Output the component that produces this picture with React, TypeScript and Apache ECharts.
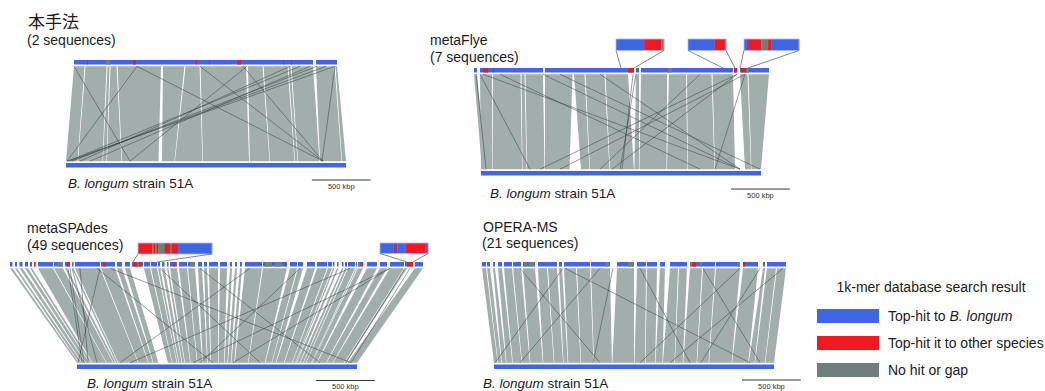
import React, { useEffect, useRef } from 'react';
import * as echarts from 'echarts';

// ---------------- data (kbp) ----------------
const REF_LEN = 2380; // B. longum strain 51A
const SCALE_KBP = 500;
const SCALE_LABEL = '500 kbp';
const SPECIES_LABEL = '{i|B. longum} strain 51A';

const BLUE = 0, RED = 1, GREY = 2, PURPLE = 3;

// Panel 1: 本手法
const p1Title = '本手法';
const p1Sub = '(2 sequences)';
const p1QLen = 2367;
const p1Contigs = [[0, 2151], [2178, 2367]];
const p1Hits = [[117, 126, RED], [288, 324, GREY], [531, 558, RED], [1098, 1107, RED], [1215, 1224, RED], [1467, 1503, RED], [1881, 1890, RED], [1953, 1962, RED]];
// [queryStart, queryEnd, refStart, refEnd]
const p1Blocks = [[0, 95, 0, 98], [104, 293, 102, 310], [302, 320, 314, 344], [329, 383, 348, 472], [392, 783, 476, 786], [801, 994, 816, 922], [1004, 1130, 926, 1160], [1139, 1548, 1164, 1556], [1566, 1697, 1562, 1730], [1706, 1922, 1734, 1942], [1931, 1949, 1946, 1968], [1958, 2151, 1972, 2155], [2178, 2345, 2159, 2342], [2354, 2367, 2346, 2380]];
// [query, ref]
const p1Repeats = [[0, 544], [567, 9], [567, 2185], [2349, 9], [2268, 34], [2187, 51], [2034, 17], [1557, 544], [2349, 2176], [1521, 2185], [1134, 2185], [1944, 119], [2124, 204]];
const p1Insets: any[] = [];

// Panel 2: metaFlye
const p2Title = 'metaFlye';
const p2Sub = '(7 sequences)';
const p2QLen = 2360;
const p2Contigs = [[0, 24], [48, 552], [568, 1280], [1296, 1320], [1336, 2072], [2080, 2104], [2128, 2360]];
const p2Hits = [[72, 112, RED], [152, 160, RED], [1232, 1280, RED], [1552, 1584, GREY], [2080, 2104, RED], [2136, 2176, RED], [2176, 2200, GREY]];
const p2Blocks = [[0, 24, 9, 43], [48, 144, 0, 94], [152, 372, 98, 349], [380, 404, 353, 387], [412, 552, 391, 540], [568, 788, 544, 752], [800, 884, 850, 922], [892, 1044, 926, 1092], [1052, 1232, 1096, 1300], [1296, 1320, 1304, 1343], [1336, 1544, 1347, 1577], [1560, 1696, 1581, 1755], [1704, 1900, 1759, 1985], [1908, 2072, 1989, 2159], [2128, 2188, 2244, 2295], [2196, 2360, 2299, 2380]];
const p2Repeats = [[72, 2202], [552, 2202], [208, 1862], [1272, 1199], [1296, 1182], [2104, 502], [2168, 672], [2104, 1114], [1808, 1012], [48, 417], [16, 43], [1008, 2202], [688, 2372], [2168, 1989]];
const p2Insets = [
  { from: 1176, to: 1280, segs: [[1176, 1237, BLUE], [1237, 1274, RED], [1274, 1280, GREY]] },
  { from: 1992, to: 2088, segs: [[1992, 2059, BLUE], [2059, 2085, RED], [2085, 2088, BLUE]] },
  { from: 2128, to: 2192, segs: [[2128, 2131, BLUE], [2131, 2135, PURPLE], [2135, 2148, RED], [2148, 2156, GREY], [2156, 2160, RED], [2160, 2192, BLUE]] },
];

// Panel 3: metaSPAdes
const p3Title = 'metaSPAdes';
const p3Sub = '(49 sequences)';
const p3QLen = 2478;
const p3Contigs = [[0, 15], [30, 42], [57, 75], [90, 108], [120, 132], [144, 153], [168, 258], [264, 318], [330, 360], [372, 381], [390, 540], [546, 630], [642, 672], [690, 720], [732, 798], [804, 840], [846, 882], [888, 900], [912, 927], [942, 951], [960, 1002], [1014, 1062], [1068, 1110], [1128, 1152], [1164, 1182], [1194, 1248], [1260, 1302], [1320, 1332], [1350, 1362], [1380, 1392], [1410, 1512], [1518, 1662], [1680, 1722], [1728, 1758], [1782, 1830], [1842, 1902], [1908, 1932], [1938, 1947], [1962, 1971], [1992, 2001], [2010, 2022], [2028, 2070], [2076, 2082], [2088, 2118], [2142, 2202], [2220, 2262], [2280, 2364], [2370, 2418], [2430, 2478]];
const p3Hits = [[144, 153, RED], [282, 318, GREY], [342, 360, RED], [558, 576, RED], [738, 792, RED], [762, 774, GREY], [978, 990, RED], [1080, 1110, GREY], [1530, 1572, GREY], [1590, 1632, GREY], [1650, 1656, RED], [2088, 2100, GREY], [2106, 2118, RED], [2382, 2418, RED]];
const p3Blocks = [[0, 15, 0, 14], [30, 42, 18, 40], [57, 75, 44, 72], [90, 108, 76, 104], [120, 132, 108, 127], [168, 258, 131, 248], [264, 318, 252, 306], [330, 342, 310, 328], [372, 381, 332, 348], [390, 540, 352, 519], [546, 630, 523, 605], [642, 672, 609, 646], [690, 720, 650, 692], [804, 840, 773, 808], [846, 882, 812, 847], [888, 900, 851, 864], [912, 927, 868, 890], [942, 951, 894, 914], [960, 1002, 918, 962], [1014, 1062, 966, 1020], [1068, 1110, 1024, 1066], [1128, 1152, 1070, 1107], [1164, 1182, 1111, 1136], [1194, 1248, 1140, 1199], [1260, 1302, 1203, 1250], [1320, 1332, 1254, 1279], [1350, 1362, 1283, 1308], [1380, 1392, 1312, 1337], [1410, 1512, 1341, 1453], [1518, 1662, 1457, 1596], [1680, 1722, 1600, 1654], [1728, 1758, 1658, 1689], [1782, 1830, 1693, 1758], [1842, 1902, 1762, 1827], [1908, 1932, 1831, 1856], [1938, 1947, 1858, 1864], [1962, 1971, 1868, 1893], [1992, 2001, 1897, 1922], [2010, 2022, 1926, 1945], [2028, 2070, 1949, 1991], [2076, 2082, 1993, 1997], [2088, 2118, 1999, 2037], [2142, 2202, 2041, 2116], [2220, 2262, 2120, 2173], [2280, 2364, 2177, 2270], [2370, 2382, 2274, 2287], [2430, 2478, 2300, 2380]];
const p3Repeats = [[348, 43], [372, 170], [540, 9], [522, 1156], [600, 2329], [2280, 1326], [2280, 986], [2400, 2329], [2370, 2287], [1140, 2065], [1440, 366], [1740, 1049], [900, 1556], [2040, 451], [360, 60], [420, 95]];
const p3Insets = [
  { from: 738, to: 882, segs: [[738, 761, RED], [761, 766, RED], [766, 769, GREY], [769, 772, RED], [772, 774, GREY], [774, 777, RED], [777, 790, GREY], [790, 800, RED], [800, 803, GREY], [803, 816, RED], [816, 882, BLUE]] },
  { from: 2382, to: 2418, segs: [[2382, 2392, BLUE], [2392, 2395, PURPLE], [2395, 2401, BLUE], [2401, 2416, RED], [2416, 2418, PURPLE]] },
];

// Panel 4: OPERA-MS
const p4Title = 'OPERA-MS';
const p4Sub = '(21 sequences)';
const p4QLen = 2432;
const p4Contigs = [[0, 32], [40, 64], [88, 104], [128, 160], [176, 240], [248, 312], [328, 424], [448, 600], [616, 640], [656, 864], [872, 1024], [1080, 1216], [1240, 1312], [1320, 1400], [1424, 1464], [1504, 1640], [1664, 1864], [1872, 2064], [2088, 2208], [2248, 2264], [2280, 2432]];
const p4Hits = [[336, 360, GREY], [372, 416, GREY], [984, 1016, GREY], [1168, 1208, GREY], [1664, 1680, GREY], [1680, 1712, RED], [1744, 1760, GREY], [2040, 2064, GREY], [2088, 2104, RED]];
const p4Blocks = [[0, 32, 0, 31], [40, 64, 35, 63], [88, 104, 67, 102], [128, 160, 106, 156], [176, 240, 160, 235], [248, 312, 239, 305], [328, 424, 309, 415], [448, 520, 419, 509], [528, 600, 513, 587], [616, 640, 591, 627], [656, 752, 631, 736], [760, 864, 740, 846], [872, 1024, 850, 1002], [1080, 1216, 1006, 1190], [1240, 1312, 1194, 1284], [1320, 1400, 1288, 1370], [1424, 1464, 1374, 1432], [1504, 1568, 1436, 1534], [1576, 1640, 1538, 1605], [1664, 1760, 1609, 1722], [1768, 1864, 1726, 1824], [1872, 2064, 1828, 2020], [2088, 2208, 2024, 2161], [2248, 2264, 2165, 2215], [2280, 2352, 2219, 2302], [2360, 2432, 2306, 2380]];
const p4Repeats = [[664, 2176], [648, 9], [1048, 842], [2408, 1496], [1768, 2262], [1264, 1666], [2064, 1241], [2224, 1758], [944, 221], [304, 901]];
const p4Insets: any[] = [];

const LEGEND_TITLE = '1k-mer database search result';
const LEGEND_KINDS = [BLUE, RED, GREY];
const LEGEND_LABELS = ['Top-hit to {i|B. longum}', 'Top-hit it to other species', 'No hit or gap'];

// ---------------- layout & style ----------------
const COLORS: Record<number, string> = { 0: '#3f66e3', 1: '#ef1a21', 2: '#6e7f7c', 3: '#8a3c8e' };
const ALIGN_FILL = '#a1aeab';
const REPEAT_STROKE = 'rgba(50,62,60,0.62)';
const BAR_H = 4.5;
const GAP = 1.8;
const FONT = '"Liberation Sans", Arial, Helvetica, sans-serif';
const CJK = '"Noto Sans CJK JP", "Noto Sans CJK SC", sans-serif';
const TEXT_FILL = '#1b1b1b';

const LAYOUT = [
  { topX: [74, 337], refX: [66, 346], topY: 60, botY: 167.5, scaleAt: 2090, scaleY: 180, title: [28, 20, 17], titleFont: CJK, sub: [27, 40], species: [68, 183], boxes: [] as number[][] },
  { topX: [474, 769], refX: [481, 761], topY: 68, botY: 175.5, scaleAt: 2125, scaleY: 189, title: [430, 40, 14], titleFont: FONT, sub: [430, 57], species: [490, 193], boxes: [[616, 39, 48, 11.5], [688, 39, 38, 11.5], [744, 39, 55, 11.5]] },
  { topX: [10, 423], refX: [77, 357], topY: 262, botY: 369, scaleAt: 2031, scaleY: 380.5, title: [27, 228, 14], titleFont: FONT, sub: [27, 245], species: [87, 383], boxes: [[138, 243, 74, 11], [380, 243, 48, 10.5]] },
  { topX: [482, 786], refX: [494, 774], topY: 262, botY: 369, scaleAt: 2108, scaleY: 380, title: [483, 227, 14], titleFont: FONT, sub: [482, 243], species: [483, 383], boxes: [] as number[][] },
];

const PANELS = [
  { title: p1Title, sub: p1Sub, qLen: p1QLen, contigs: p1Contigs, hits: p1Hits, blocks: p1Blocks, repeats: p1Repeats, insets: p1Insets },
  { title: p2Title, sub: p2Sub, qLen: p2QLen, contigs: p2Contigs, hits: p2Hits, blocks: p2Blocks, repeats: p2Repeats, insets: p2Insets },
  { title: p3Title, sub: p3Sub, qLen: p3QLen, contigs: p3Contigs, hits: p3Hits, blocks: p3Blocks, repeats: p3Repeats, insets: p3Insets },
  { title: p4Title, sub: p4Sub, qLen: p4QLen, contigs: p4Contigs, hits: p4Hits, blocks: p4Blocks, repeats: p4Repeats, insets: p4Insets },
];

function txt(x: number, y: number, text: string, size: number, family = FONT, align = 'left', rich?: any) {
  const style: any = { text, fontSize: size, fontFamily: family, fill: TEXT_FILL, align, verticalAlign: 'middle' };
  if (rich) style.rich = rich;
  return { type: 'text', x, y, silent: true, style };
}

function buildOption() {
  const grid: any[] = [], xAxis: any[] = [], yAxis: any[] = [], series: any[] = [], graphic: any[] = [];

  PANELS.forEach((p, k) => {
    const L = LAYOUT[k];
    const gx0 = Math.min(L.topX[0], L.refX[0]);
    const gx1 = Math.max(L.topX[1], L.refX[1]);
    const refKpp = REF_LEN / (L.refX[1] - L.refX[0]);
    const qKpp = p.qLen / (L.topX[1] - L.topX[0]);
    const refMin = (gx0 - L.refX[0]) * refKpp;
    const refMax = (gx1 - L.refX[0]) * refKpp;
    const qMin = (gx0 - L.topX[0]) * qKpp;
    const qMax = (gx1 - L.topX[0]) * qKpp;

    grid.push({ left: gx0, top: L.topY, width: gx1 - gx0, height: L.botY - L.topY });
    xAxis.push({ type: 'value', gridIndex: k, min: refMin, max: refMax, show: false });
    xAxis.push({ type: 'value', gridIndex: k, min: qMin, max: qMax, position: 'top', show: false });
    yAxis.push({ type: 'value', gridIndex: k, min: 0, max: 1, show: false });

    const refAx = 2 * k, qAx = 2 * k + 1;
    const base = { type: 'custom', coordinateSystem: 'cartesian2d', yAxisIndex: k, clip: false, silent: true };
    // same linear scale as the top (query) axis declared above
    const qPx = (cs: any, q: number) => cs.x + ((q - qMin) / (qMax - qMin)) * cs.width;

    // alignment blocks
    series.push({
      ...base, xAxisIndex: refAx, data: p.blocks,
      renderItem: (params: any, api: any) => {
        const cs = params.coordSys;
        const yT = api.coord([0, 1])[1] + BAR_H + GAP;
        const yB = api.coord([0, 0])[1] - BAR_H - GAP;
        return {
          type: 'polygon',
          shape: { points: [[qPx(cs, api.value(0)), yT], [qPx(cs, api.value(1)), yT], [api.coord([api.value(3), 0])[0], yB], [api.coord([api.value(2), 0])[0], yB]] },
          style: { fill: ALIGN_FILL },
        };
      },
    });
    // repeat / rearranged hits
    series.push({
      ...base, xAxisIndex: refAx, data: p.repeats,
      renderItem: (params: any, api: any) => {
        const cs = params.coordSys;
        const yT = api.coord([0, 1])[1] + BAR_H + GAP;
        const yB = api.coord([0, 0])[1] - BAR_H - GAP;
        return {
          type: 'line',
          shape: { x1: qPx(cs, api.value(0)), y1: yT, x2: api.coord([api.value(1), 0])[0], y2: yB },
          style: { stroke: REPEAT_STROKE, lineWidth: 0.8 },
        };
      },
    });
    // contigs (top)
    series.push({
      ...base, xAxisIndex: qAx, data: p.contigs,
      renderItem: (params: any, api: any) => {
        const a = api.coord([api.value(0), 1]);
        const b = api.coord([api.value(1), 1]);
        return { type: 'rect', shape: { x: a[0], y: a[1], width: Math.max(b[0] - a[0], 0.8), height: BAR_H }, style: { fill: COLORS[BLUE] } };
      },
    });
    // hit colouring on contigs
    series.push({
      ...base, xAxisIndex: qAx, data: p.hits,
      renderItem: (params: any, api: any) => {
        const a = api.coord([api.value(0), 1]);
        const b = api.coord([api.value(1), 1]);
        return { type: 'rect', shape: { x: a[0], y: a[1], width: Math.max(b[0] - a[0], 0.8), height: BAR_H }, style: { fill: COLORS[api.value(2)] } };
      },
    });
    // reference bar (bottom)
    series.push({
      ...base, xAxisIndex: refAx, data: [[0, REF_LEN]],
      renderItem: (params: any, api: any) => {
        const a = api.coord([api.value(0), 0]);
        const b = api.coord([api.value(1), 0]);
        return { type: 'rect', shape: { x: a[0], y: a[1] - BAR_H, width: b[0] - a[0], height: BAR_H }, style: { fill: COLORS[BLUE] } };
      },
    });
    // scale bar
    series.push({
      ...base, xAxisIndex: refAx, data: [[L.scaleAt, L.scaleAt + SCALE_KBP]],
      renderItem: (params: any, api: any) => {
        const a = api.coord([api.value(0), 0])[0];
        const b = api.coord([api.value(1), 0])[0];
        return {
          type: 'group',
          children: [
            { type: 'line', shape: { x1: a, y1: L.scaleY, x2: b, y2: L.scaleY }, style: { stroke: '#222', lineWidth: 0.9 } },
            { type: 'text', x: (a + b) / 2, y: L.scaleY + 6, style: { text: SCALE_LABEL, fontSize: 7.5, fontFamily: FONT, fill: '#333', align: 'center', verticalAlign: 'middle' } },
          ],
        };
      },
    });
    // zoomed insets
    if (p.insets.length) {
      series.push({
        ...base, xAxisIndex: qAx, data: p.insets.map((ins: any) => [ins.from, ins.to]),
        renderItem: (params: any, api: any) => {
          const ins = p.insets[params.dataIndex];
          const [bx, by, bw, bh] = L.boxes[params.dataIndex];
          const from = api.value(0), to = api.value(1);
          const yTop = api.coord([from, 1])[1];
          const children: any[] = [];
          ins.segs.forEach((s: number[]) => {
            children.push({
              type: 'rect',
              shape: { x: bx + ((s[0] - from) / (to - from)) * bw, y: by, width: ((s[1] - s[0]) / (to - from)) * bw + 0.3, height: bh },
              style: { fill: COLORS[s[2]] },
            });
          });
          children.push({ type: 'rect', shape: { x: bx, y: by, width: bw, height: bh }, style: { fill: 'none', stroke: '#b3bbee', lineWidth: 0.8 } });
          children.push({ type: 'line', shape: { x1: bx, y1: by + bh, x2: api.coord([from, 1])[0], y2: yTop }, style: { stroke: '#555', lineWidth: 0.7 } });
          children.push({ type: 'line', shape: { x1: bx + bw, y1: by + bh, x2: api.coord([to, 1])[0], y2: yTop }, style: { stroke: '#555', lineWidth: 0.7 } });
          return { type: 'group', children };
        },
      });
    }

    // texts
    graphic.push(txt(L.title[0], L.title[1], p.title, L.title[2], L.titleFont));
    graphic.push(txt(L.sub[0], L.sub[1], p.sub, 14));
    graphic.push(txt(L.species[0], L.species[1], SPECIES_LABEL, 13.5, FONT, 'left', { i: { fontStyle: 'italic', fontSize: 13.5, fontFamily: FONT, fill: TEXT_FILL } }));
  });

  // legend
  graphic.push(txt(931, 287, LEGEND_TITLE, 14, FONT, 'center'));
  LEGEND_KINDS.forEach((kind, i) => {
    const y = 309 + i * 27;
    graphic.push({ type: 'rect', silent: true, shape: { x: 817, y, width: 62, height: 14 }, style: { fill: COLORS[kind] } });
    graphic.push(txt(888, y + 7, LEGEND_LABELS[i], 14, FONT, 'left', { i: { fontStyle: 'italic', fontSize: 14, fontFamily: FONT, fill: TEXT_FILL } }));
  });

  return { animation: false, backgroundColor: '#ffffff', grid, xAxis, yAxis, series, graphic };
}

export default function App() {
  const ref = useRef<HTMLDivElement>(null);
  useEffect(() => {
    if (!ref.current) return;
    const chart = echarts.init(ref.current, null, { renderer: 'svg' });
    chart.setOption(buildOption() as any);
    return () => chart.dispose();
  }, []);
  return <div ref={ref} style={{ position: 'fixed', left: 0, top: 0, width: 1045, height: 391, background: '#fff' }} />;
}
